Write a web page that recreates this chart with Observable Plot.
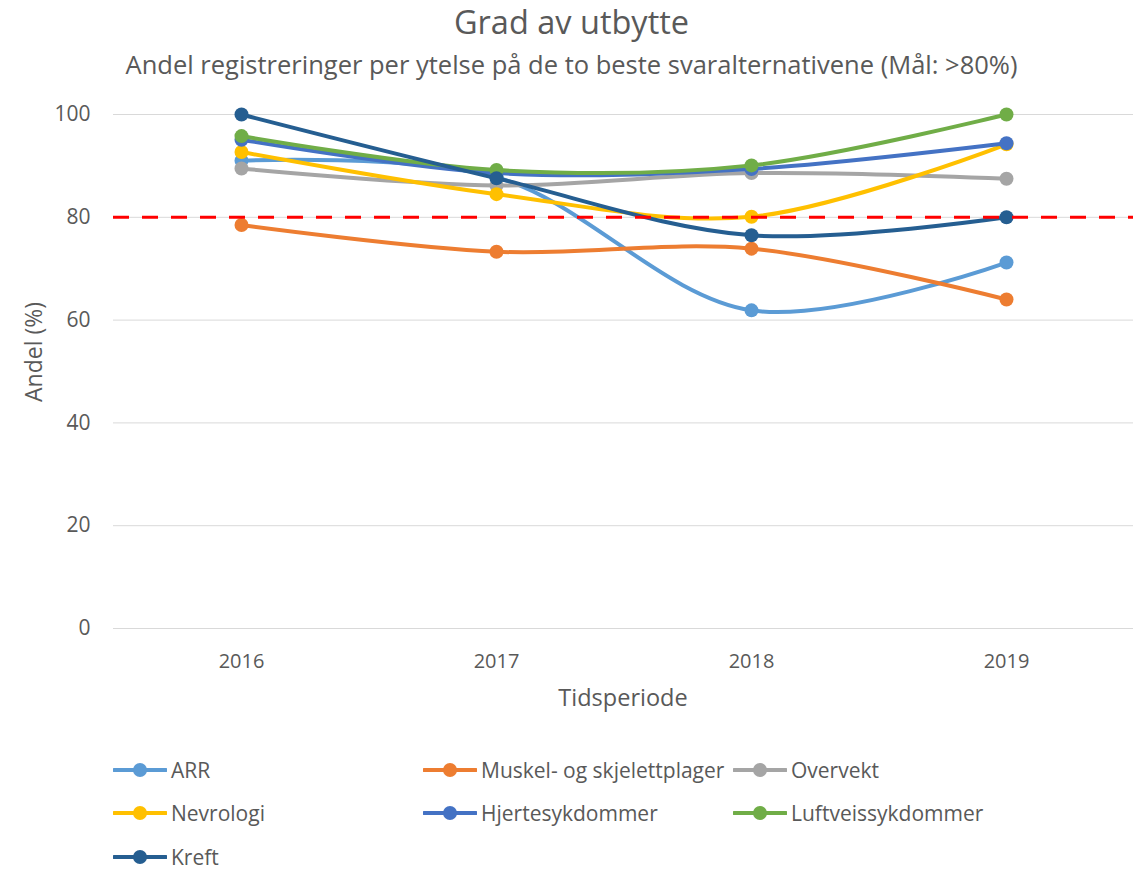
<!DOCTYPE html>
<html><head><meta charset="utf-8">
<script src="https://cdn.jsdelivr.net/npm/d3@7"></script>
<script src="https://cdn.jsdelivr.net/npm/@observablehq/plot@0.6"></script>
<style>
body{margin:0;background:#fff;font-family:"Open Sans",sans-serif;color:#595959}
#wrap{position:relative;width:1143px;height:870px;overflow:hidden;background:#fff}
.abs{position:absolute;white-space:nowrap}
#title{left:0;width:1143px;text-align:center;top:3px;font-size:32.5px;line-height:38px}
#subtitle{left:0;width:1143px;text-align:center;top:49px;font-size:25.5px;line-height:30px}
#chart{position:absolute;left:0;top:90px}
#xlabel{left:113px;width:1020px;text-align:center;top:682px;font-size:23.5px;line-height:30px}
#ylabel{left:33px;top:352px;font-size:23px;line-height:28px;transform:translate(-50%,-50%) rotate(-90deg)}
.leg{position:absolute;display:flex;align-items:center;font-size:21px;line-height:28px;height:28px}
.leg svg{margin-right:4px}
</style></head><body>
<div id="wrap">
<div id="title" class="abs">Grad av utbytte</div>
<div id="subtitle" class="abs">Andel registreringer per ytelse på de to beste svaralternativene (Mål: &gt;80%)</div>
<div id="chart"></div>
<div id="xlabel" class="abs">Tidsperiode</div>
<div id="ylabel" class="abs">Andel (%)</div>
<div id="legend"></div>
</div>
<script>
const years = ["2016", "2017", "2018", "2019"];
const seriesNames = ["ARR", "Muskel- og skjelettplager", "Overvekt", "Nevrologi", "Hjertesykdommer", "Luftveissykdommer", "Kreft"];
const colors = ["#5B9BD5", "#ED7D31", "#A5A5A5", "#FFC000", "#4472C4", "#70AD47", "#255E91"];
const ARR = [91.0, 87.8, 61.9, 71.2];
const Muskel = [78.5, 73.3, 73.9, 64.0];
const Overvekt = [89.5, 86.2, 88.6, 87.5];
const Nevrologi = [92.7, 84.5, 80.1, 94.2];
const Hjerte = [95.1, 88.6, 89.4, 94.4];
const Luftveis = [95.8, 89.2, 90.1, 100];
const Kreft = [100, 87.6, 76.5, 80.0];
const seriesValues = [ARR, Muskel, Overvekt, Nevrologi, Hjerte, Luftveis, Kreft];
const yTicks = [0, 20, 40, 60, 80, 100];
const target = [80];

const marks = [
  Plot.ruleY(yTicks, {stroke: "#d9d9d9", strokeWidth: 1}),
  Plot.axisY({ticks: yTicks, tickSize: 0, tickPadding: 23, label: null, fontSize: 21}),
  Plot.axisX({tickSize: 0, tickPadding: 25, label: null, fontSize: 20})
];
seriesNames.forEach((name, i) => {
  const d = years.map((y, j) => ({year: y, value: seriesValues[i][j], series: name}));
  marks.push(Plot.line(d, {x: "year", y: "value", stroke: colors[i], strokeWidth: 4, curve: "catmull-rom"}));
  marks.push(Plot.dot(d, {x: "year", y: "value", fill: colors[i], r: 7}));
});
marks.push(Plot.ruleY(target, {stroke: "#FF0000", strokeWidth: 3, strokeDasharray: "16,13"}));

const chart = Plot.plot({
  width: 1143,
  height: 630,
  marginTop: 24,
  marginBottom: 92,
  marginLeft: 113,
  marginRight: 10,
  style: {fontFamily: "Open Sans, sans-serif", fontSize: "20px", color: "#595959", background: "transparent"},
  x: {type: "point", domain: years, padding: 0.5},
  y: {domain: [0, 100]},
  marks
});
document.getElementById("chart").appendChild(chart);

const legend = document.getElementById("legend");
const colX = [113, 423, 733];
const rowY = [770, 813, 857];
seriesNames.forEach((name, i) => {
  const el = document.createElement("div");
  el.className = "leg";
  el.style.left = colX[i % 3] + "px";
  el.style.top = (rowY[Math.floor(i / 3)] - 14) + "px";
  el.innerHTML = `<svg width="54" height="16"><line x1="1" x2="53" y1="8" y2="8" stroke="${colors[i]}" stroke-width="4" stroke-linecap="round"/><circle cx="27" cy="8" r="7" fill="${colors[i]}"/></svg><span>${name}</span>`;
  legend.appendChild(el);
});
</script>
</body></html>
